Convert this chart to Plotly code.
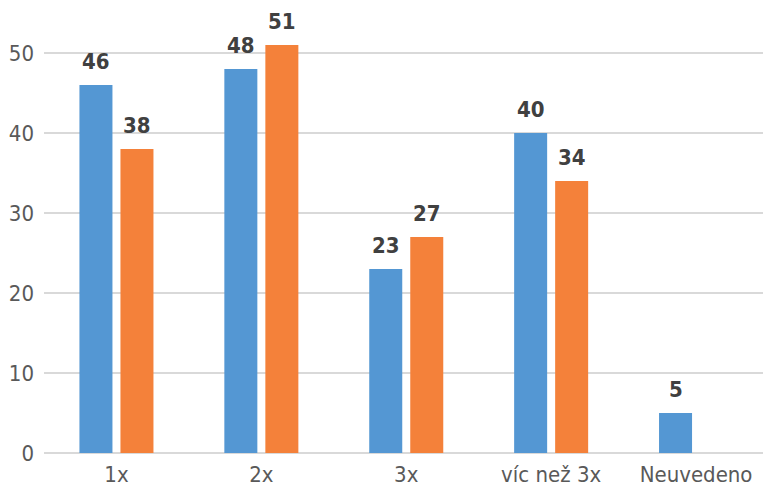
import plotly.graph_objects as go

categories = ["1x", "2x", "3x", "víc než 3x", "Neuvedeno"]
series_a = [46, 48, 23, 40, 5]
series_b = [38, 51, 27, 34, None]
y_ticks = [0, 10, 20, 30, 40, 50]

blue = "#5497D3"
orange = "#F4813A"
font_family = "DejaVu Sans Condensed, DejaVu Sans"

fig = go.Figure()
fig.add_trace(go.Bar(x=categories, y=series_a, marker=dict(color=blue, line=dict(width=0)), name="A"))
fig.add_trace(go.Bar(x=categories, y=series_b, marker=dict(color=orange, line=dict(width=0)), name="B"))

for vals, shift in ((series_a, -20.5), (series_b, 20.5)):
    for c, v in zip(categories, vals):
        if v is None:
            continue
        fig.add_annotation(x=c, y=v, text=str(v), showarrow=False, xshift=shift, yshift=9,
                           yanchor="bottom", xanchor="center",
                           font=dict(family=font_family, size=22, color="#404040", weight="bold"))

W, H = 763, 486
left, bottom = 43.5, 33.3
fig.update_layout(
    width=W, height=H,
    margin=dict(l=left, r=0, t=0, b=bottom, pad=0, autoexpand=False),
    paper_bgcolor="white", plot_bgcolor="white",
    barmode="group", bargap=0.434, bargroupgap=0.195,
    showlegend=False,
    font=dict(family=font_family, size=22, color="#595959"),
)
fig.update_xaxes(range=[-0.5, -0.5 + (W - left) / 145.0], showgrid=False, showline=False,
                 zeroline=False, ticks="", ticklabelstandoff=6, automargin=False,
                 tickfont=dict(family=font_family, size=22, color="#595959"))
fig.update_yaxes(range=[0, (H - bottom) / 7.994], tickvals=y_ticks, showgrid=True,
                 gridcolor="#D9D9D9", gridwidth=2, zeroline=True, zerolinecolor="#D9D9D9",
                 zerolinewidth=2, showline=False, ticks="", ticklabelstandoff=9, automargin=False,
                 tickfont=dict(family=font_family, size=22, color="#595959"))

fig.write_html("out.html", config={"displayModeBar": False},
               post_script="document.body.style.margin='0';document.body.style.overflow='hidden';")
